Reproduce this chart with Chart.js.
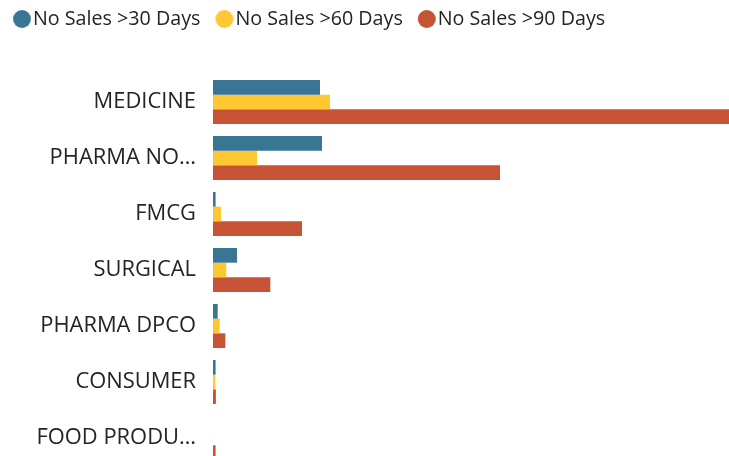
<!DOCTYPE html>
<html>
<head>
<meta charset="utf-8">
<script src="https://cdn.jsdelivr.net/npm/chart.js@4.4.1/dist/chart.umd.min.js"></script>
<style>
  html, body { margin: 0; padding: 0; width: 729px; height: 456px; overflow: hidden; background: #fff; }
  #c { position: absolute; left: -2px; top: -4px; }
</style>
</head>
<body>
<canvas id="c" width="731" height="470"></canvas>
<script>
const categories = ['MEDICINE', 'PHARMA NO…', 'FMCG', 'SURGICAL', 'PHARMA DPCO', 'CONSUMER', 'FOOD PRODU…'];
const seriesNames = ['No Sales >30 Days', 'No Sales >60 Days', 'No Sales >90 Days'];
const sales30 = [107, 109, 2.6, 24, 4.7, 2.6, 0];
const sales60 = [117, 44, 8, 13.3, 6.7, 2.3, 0];
const sales90 = [516, 287, 89, 57.3, 12.3, 2.9, 2.6];
const colors = ['#3B7594', '#FEC832', '#C65335'];

const FONT = '"Open Sans", "Noto Sans", sans-serif';
const LEG_SIZE = 19.7;
const TXT = '#252423';

function circleImg(color) {
  const cv = document.createElement('canvas');
  cv.width = 28; cv.height = 20;
  const g = cv.getContext('2d');
  g.fillStyle = color;
  g.beginPath();
  g.arc(18.85, 10, 9, 0, Math.PI * 2);
  g.fill();
  return cv;
}
const imgs = colors.map(circleImg);

const legendHeightPlugin = {
  id: 'legendHeight',
  beforeInit(chart) {
    const origFit = chart.legend.fit;
    chart.legend.fit = function () {
      origFit.call(this);
      this.height = 78;
    };
  }
};

new Chart(document.getElementById('c'), {
  type: 'bar',
  data: {
    labels: categories,
    datasets: [
      { label: seriesNames[0], data: sales30, backgroundColor: colors[0] },
      { label: seriesNames[1], data: sales60, backgroundColor: colors[1] },
      { label: seriesNames[2], data: sales90, backgroundColor: colors[2] }
    ]
  },
  options: {
    indexAxis: 'y',
    responsive: false,
    animation: false,
    layout: { padding: 0 },
    datasets: { bar: { categoryPercentage: 0.785, barPercentage: 1.0, borderWidth: 0 } },
    scales: {
      x: { display: false, min: 0, max: Math.max(...sales90) },
      y: {
        grid: { display: false, drawTicks: false },
        border: { display: false },
        ticks: { color: TXT, padding: 17, font: { family: FONT, size: 21.9 } },
        afterFit(scale) {
          scale.width = 215;
          scale.paddingTop = 0;
          scale.paddingBottom = 0;
        }
      }
    },
    plugins: {
      tooltip: { enabled: false },
      legend: {
        position: 'top',
        align: 'start',
        labels: {
          usePointStyle: true,
          boxWidth: 12,
          boxHeight: 12,
          padding: 13.15,
          color: TXT,
          font: { family: FONT, size: LEG_SIZE },
          generateLabels(chart) {
            const items = Chart.defaults.plugins.legend.labels.generateLabels(chart);
            items.forEach((it, i) => { it.pointStyle = imgs[i]; });
            return items;
          }
        }
      }
    }
  },
  plugins: [legendHeightPlugin]
});
</script>
</body>
</html>
